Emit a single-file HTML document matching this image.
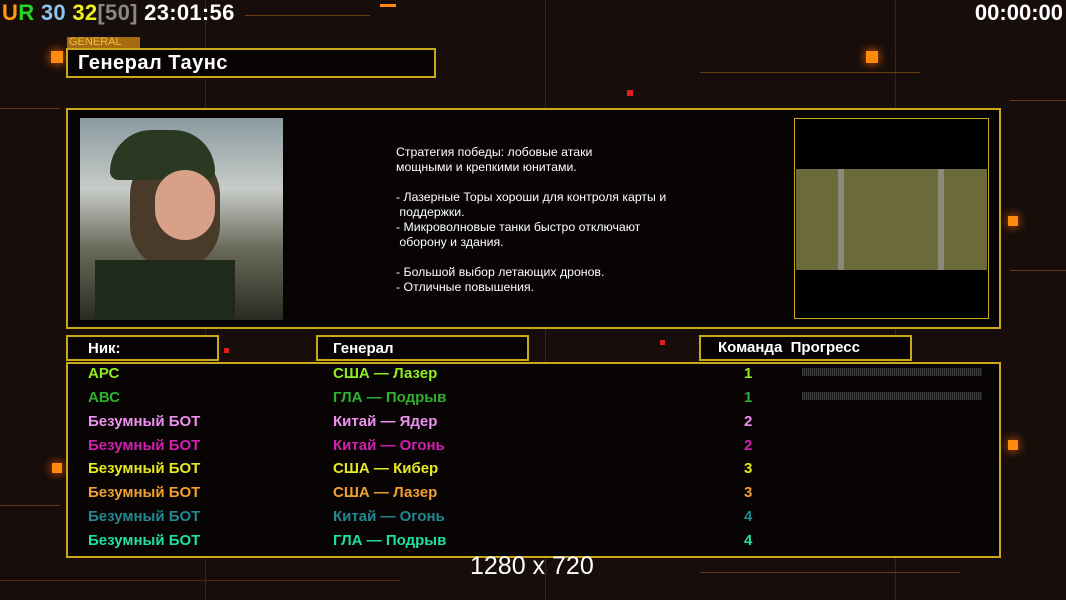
<!DOCTYPE html>
<html><head><meta charset="utf-8"><style>
body{margin:0;width:1066px;height:600px;overflow:hidden;background:#170d0a;font-family:"Liberation Sans","DejaVu Sans",sans-serif;position:relative}
.a{position:absolute}
.box{position:absolute;border:2px solid #c9a81a;background:#080404;box-sizing:border-box}
.t{position:absolute;font-weight:bold;font-size:15px;white-space:nowrap}
.sq{position:absolute;background:#ff8a10;box-shadow:0 0 10px #ff6a00}
.ln{position:absolute;background:#6a3a12;height:1px}
.vl{position:absolute;background:#3a2216;width:1px}
</style></head><body>
<div class="vl" style="left:205px;top:0;height:600px"></div>
<div class="vl" style="left:545px;top:0;height:600px"></div>
<div class="vl" style="left:895px;top:0;height:600px"></div>
<div class="ln" style="left:0;top:108px;width:60px"></div>
<div class="ln" style="left:245px;top:15px;width:125px"></div>
<div class="ln" style="left:700px;top:72px;width:220px"></div>
<div class="ln" style="left:1010px;top:100px;width:56px"></div>
<div class="ln" style="left:1010px;top:270px;width:56px"></div>
<div class="ln" style="left:0;top:505px;width:60px"></div>
<div class="ln" style="left:700px;top:572px;width:260px"></div>
<div class="ln" style="left:0;top:580px;width:400px;background:#4a2a10"></div>
<div class="sq" style="left:51px;top:51px;width:12px;height:12px"></div>
<div class="sq" style="left:866px;top:51px;width:12px;height:12px"></div>
<div class="sq" style="left:1008px;top:216px;width:10px;height:10px"></div>
<div class="sq" style="left:1008px;top:440px;width:10px;height:10px"></div>
<div class="sq" style="left:52px;top:463px;width:10px;height:10px"></div>
<div class="a" style="left:380px;top:4px;width:16px;height:3px;background:#ff8a10"></div>
<div class="a" style="left:627px;top:90px;width:6px;height:6px;background:#e02020"></div>
<div class="a" style="left:224px;top:348px;width:5px;height:5px;background:#e02020"></div>
<div class="a" style="left:660px;top:340px;width:5px;height:5px;background:#e02020"></div>

<div class="t" style="left:2px;top:0;font-size:22px;letter-spacing:0.3px"><span style="color:#ff9a10">U</span><span style="color:#22d822">R</span> <span style="color:#8cc4f0">30</span> <span style="color:#f0f020">32</span><span style="color:#888">[50]</span> <span style="color:#fff">23:01:56</span></div>
<div class="t" style="right:3px;top:0;font-size:22px;color:#fff">00:00:00</div>

<div class="a" style="left:67px;top:37px;width:71px;height:11px;background:#a66a10;color:#f0c040;font-size:11px;line-height:11px;padding-left:2px">GENERAL</div>
<div class="box" style="left:66px;top:48px;width:370px;height:30px"></div>
<div class="t" style="left:78px;top:52px;font-size:20px;color:#fff;letter-spacing:0.5px">Генерал Таунс</div>

<div class="box" style="left:66px;top:108px;width:935px;height:221px"></div>
<div class="a" style="left:80px;top:118px;width:203px;height:202px;background:linear-gradient(180deg,#8a9aa0 0%,#c8ccc8 35%,#6a6a5a 65%,#2a2a22 100%)"></div>
<div class="a" style="left:130px;top:150px;width:90px;height:120px;border-radius:45px;background:#4a3a2a"></div>
<div class="a" style="left:110px;top:130px;width:105px;height:50px;border-radius:50px 50px 10px 10px;background:#2a3a22"></div>
<div class="a" style="left:155px;top:170px;width:60px;height:70px;border-radius:30px;background:#d8a088"></div>
<div class="a" style="left:95px;top:260px;width:140px;height:60px;background:#1e2a1a"></div>
<div class="a" style="left:396px;top:145px;color:#fff;font-size:12.3px;line-height:15px;white-space:pre">Стратегия победы: лобовые атаки
мощными и крепкими юнитами.

- Лазерные Торы хороши для контроля карты и
 поддержки.
- Микроволновые танки быстро отключают
 оборону и здания.

- Большой выбор летающих дронов.
- Отличные повышения.</div>
<div class="a" style="left:794px;top:118px;width:195px;height:201px;border:1px solid #c9a81a;box-sizing:border-box;background:#000"></div>
<div class="a" style="left:796px;top:169px;width:191px;height:101px;background:#6a6a3a"></div>
<div class="a" style="left:838px;top:169px;width:6px;height:101px;background:#8a8a7a"></div>
<div class="a" style="left:938px;top:169px;width:6px;height:101px;background:#8a8a7a"></div>

<div class="box" style="left:66px;top:335px;width:153px;height:26px"></div>
<div class="box" style="left:316px;top:335px;width:213px;height:26px"></div>
<div class="box" style="left:699px;top:335px;width:213px;height:26px"></div>
<div class="t" style="left:88px;top:340px;color:#fff">Ник:</div>
<div class="t" style="left:333px;top:340px;color:#fff">Генерал</div>
<div class="t" style="left:718px;top:339px;color:#fff">Команда&nbsp; Прогресс</div>
<div class="box" style="left:66px;top:362px;width:935px;height:196px"></div>
<div class="a" style="left:802px;top:368px;width:180px;height:8px;background:repeating-linear-gradient(90deg,#3a3a3a 0 1px,#1a1a1a 1px 2px)"></div>
<div class="a" style="left:802px;top:392px;width:180px;height:8px;background:repeating-linear-gradient(90deg,#3a3a3a 0 1px,#1a1a1a 1px 2px)"></div>

<div class="t" style="left:88px;top:365px;color:#90ee20">АРС</div><div class="t" style="left:333px;top:365px;color:#90ee20">США — Лазер</div><div class="t" style="left:744px;top:365px;color:#90ee20">1</div>
<div class="t" style="left:88px;top:389px;color:#30b030">АВС</div><div class="t" style="left:333px;top:389px;color:#30b030">ГЛА — Подрыв</div><div class="t" style="left:744px;top:389px;color:#30b030">1</div>
<div class="t" style="left:88px;top:413px;color:#ee90f0">Безумный БОТ</div><div class="t" style="left:333px;top:413px;color:#ee90f0">Китай — Ядер</div><div class="t" style="left:744px;top:413px;color:#ee90f0">2</div>
<div class="t" style="left:88px;top:437px;color:#d020b0">Безумный БОТ</div><div class="t" style="left:333px;top:437px;color:#d020b0">Китай — Огонь</div><div class="t" style="left:744px;top:437px;color:#d020b0">2</div>
<div class="t" style="left:88px;top:460px;color:#e8e820">Безумный БОТ</div><div class="t" style="left:333px;top:460px;color:#e8e820">США — Кибер</div><div class="t" style="left:744px;top:460px;color:#e8e820">3</div>
<div class="t" style="left:88px;top:484px;color:#f0a030">Безумный БОТ</div><div class="t" style="left:333px;top:484px;color:#f0a030">США — Лазер</div><div class="t" style="left:744px;top:484px;color:#f0a030">3</div>
<div class="t" style="left:88px;top:508px;color:#208890">Безумный БОТ</div><div class="t" style="left:333px;top:508px;color:#208890">Китай — Огонь</div><div class="t" style="left:744px;top:508px;color:#208890">4</div>
<div class="t" style="left:88px;top:532px;color:#20e0a0">Безумный БОТ</div><div class="t" style="left:333px;top:532px;color:#20e0a0">ГЛА — Подрыв</div><div class="t" style="left:744px;top:532px;color:#20e0a0">4</div>

<div class="a" style="left:470px;top:552px;color:#fff;font-size:25px;white-space:nowrap">1280 x 720</div>
</body></html>
